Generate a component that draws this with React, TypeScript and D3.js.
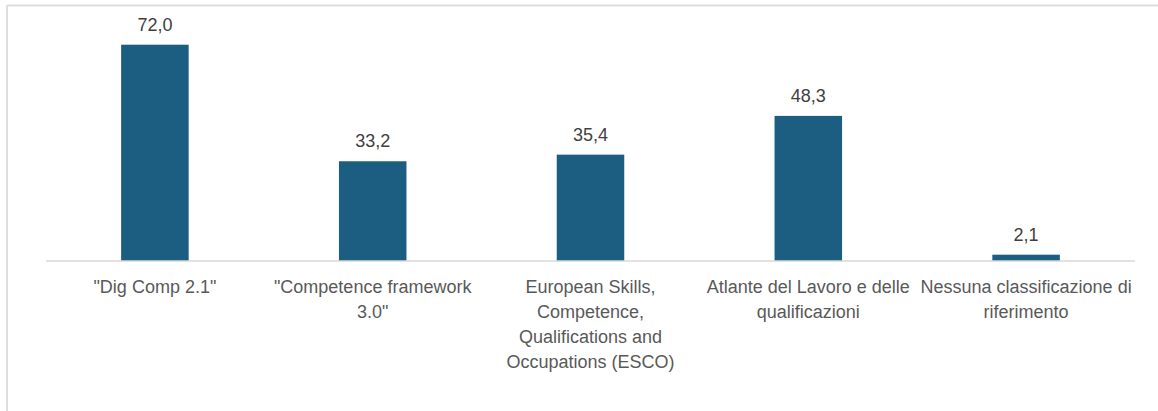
import React from "react";
import * as d3 from "d3";

const categories: string[] = [
  '"Dig Comp 2.1"',
  '"Competence framework\n3.0"',
  "European Skills,\nCompetence,\nQualifications and\nOccupations (ESCO)",
  "Atlante del Lavoro e delle\nqualificazioni",
  "Nessuna classificazione di\nriferimento",
];
const values: number[] = [72.0, 33.2, 35.4, 48.3, 2.1];

const W = 1158;
const H = 411;
const FONT = "'Liberation Sans', Arial, sans-serif";

export default function App() {
  const x = d3
    .scaleBand<string>()
    .domain(categories)
    .range([46, 1135])
    .paddingInner(0.69)
    .paddingOuter(0.345);
  const y = d3.scaleLinear().domain([0, 72]).range([261, 44.7]);
  const fmt = (v: number) => d3.format(".1f")(v).replace(".", ",");

  return (
    <svg
      width={W}
      height={H}
      style={{ position: "absolute", left: 0, top: 0, background: "#fff" }}
      fontFamily={FONT}
    >
      <rect x={0} y={0} width={W} height={H} fill="#fff" />
      <line x1={7} x2={W} y1={5.5} y2={5.5} stroke="#dedede" strokeWidth={2} />
      <line x1={7} x2={7} y1={5.5} y2={H} stroke="#dedede" strokeWidth={2} />
      {categories.map((c, i) => (
        <rect
          key={c}
          x={x(c)}
          y={y(values[i])}
          width={x.bandwidth()}
          height={y(0) - y(values[i])}
          fill="#1b5e81"
        />
      ))}
      <line x1={46} x2={1135} y1={y(0)} y2={y(0)} stroke="#d9d9d9" strokeWidth={1.5} />
      {categories.map((c, i) => (
        <text
          key={"v" + c}
          x={(x(c) as number) + x.bandwidth() / 2}
          y={y(values[i]) - 14}
          textAnchor="middle"
          fontSize={18}
          fill="#404040"
        >
          {fmt(values[i])}
        </text>
      ))}
      {categories.map((c) => (
        <text
          key={"c" + c}
          x={(x(c) as number) + x.bandwidth() / 2}
          y={293}
          textAnchor="middle"
          fontSize={18}
          fill="#595959"
        >
          {c.split("\n").map((line, j) => (
            <tspan key={j} x={(x(c) as number) + x.bandwidth() / 2} y={293 + j * 25}>
              {line}
            </tspan>
          ))}
        </text>
      ))}
    </svg>
  );
}
